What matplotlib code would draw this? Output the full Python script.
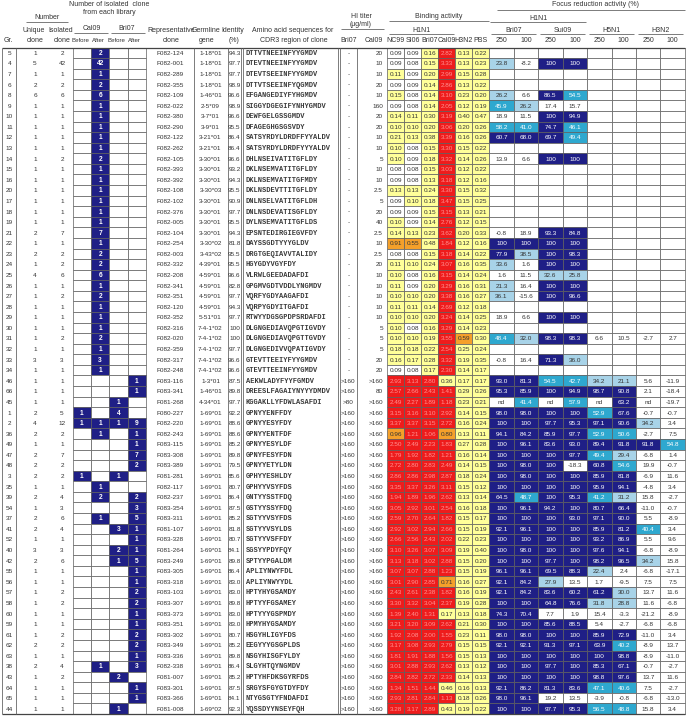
import matplotlib
matplotlib.use('Agg')
import matplotlib.pyplot as plt
from matplotlib.patches import Rectangle

# ---------------- data ----------------
gr = [5,4,7,6,8,9,10,11,12,13, 14,15,16,20,17,18,19,21,22,23, 24,25,26,27,28,29,30,31,32,33,
      34,46,66,45,1,2,36,49,47,48, 3,35,39,54,37,41,52,40,42,55, 56,57,58,60,59,61,62,63,38,43, 64,65,44]
unique_clone = [1,5,1,2,6,1,1,1,1,1, 1,1,1,1,1,1,1,2,1,2, 1,4,1,1,1,1,1,1,1,3,
                1,1,1,1,2,4,2,1,2,2, 2,1,2,1,2,2,1,3,2,1, 1,1,1,1,1,1,2,1,2,1, 1,1,1]
isolated_clone = [2,42,1,2,6,1,1,1,1,1, 2,1,1,1,1,1,1,7,1,2, 2,6,1,2,1,1,1,2,1,3,
                  1,1,1,1,5,12,2,1,7,2, 2,1,4,3,6,4,1,3,6,1, 1,2,2,1,1,2,2,1,4,2, 1,1,1]
cal09_before = [0,0,0,0,0,0,0,0,0,0, 0,0,0,0,0,0,0,0,0,0, 0,0,0,0,0,0,0,0,0,0,
                0,0,0,0,1,1,0,0,0,0, 1,0,0,0,0,0,0,0,0,0, 0,0,0,0,0,0,0,0,0,0, 0,0,0]
cal09_after = [2,42,1,2,6,1,1,1,1,1, 2,1,1,1,1,1,1,7,1,2, 2,6,1,2,1,1,1,2,1,3,
               1,0,0,0,0,1,1,0,0,0, 0,1,2,0,1,0,0,0,0,0, 0,0,0,0,0,0,0,0,1,0, 0,0,0]
bri07_before = [0,0,0,0,0,0,0,0,0,0, 0,0,0,0,0,0,0,0,0,0, 0,0,0,0,0,0,0,0,0,0,
                0,0,0,1,4,1,0,0,0,0, 1,0,0,0,0,3,0,2,1,0, 0,0,0,0,0,0,0,0,0,2, 0,0,1]
bri07_after = [0,0,0,0,0,0,0,0,0,0, 0,0,0,0,0,0,0,0,0,0, 0,0,0,0,0,0,0,0,0,0,
               0,1,1,0,0,9,1,1,7,2, 0,0,2,3,5,1,1,1,5,1, 1,2,2,1,1,2,2,1,3,0, 1,1,0]
rep_clone = ["F082-124","F082-001","F082-289","F082-355","F082-109","F082-022","F082-380","F082-290","F082-122","F082-262",
             "F082-105","F082-393","F082-392","F082-108","F082-102","F082-376","F082-005","F082-104","F082-254","F082-003",
             "F082-332","F082-208","F082-341","F082-351","F082-120","F082-352","F082-316","F082-020","F082-359","F082-317",
             "F082-248","F083-116","F083-341","F081-268","F080-227","F082-220","F082-243","F083-115","F083-308","F083-389",
             "F081-281","F082-117","F082-237","F083-354","F083-311","F081-107","F083-328","F081-264","F083-249","F083-305",
             "F083-318","F083-103","F083-307","F083-373","F083-351","F083-302","F083-349","F083-336","F082-338","F081-007",
             "F083-301","F083-366","F081-008"]
germline = ["1-18*01","1-18*01","1-18*01","1-18*01","1-46*01","2-5*09","3-7*01","3-9*01","3-21*01","3-21*01",
            "3-30*01","3-30*01","3-30*01","3-30*03","3-30*01","3-30*01","3-30*01","3-30*01","3-30*02","3-43*02",
            "4-39*01","4-59*01","4-59*01","4-59*01","4-59*01","5-51*01","7-4-1*02","7-4-1*02","7-4-1*02","7-4-1*02",
            "7-4-1*02","1-3*01","1-46*01","4-34*01","1-69*01","1-69*01","1-69*01","1-69*01","1-69*01","1-69*01",
            "1-69*01","1-69*01","1-69*01","1-69*01","1-69*01","1-69*01","1-69*01","1-69*01","1-69*01","1-69*01",
            "1-69*01","1-69*01","1-69*01","1-69*01","1-69*01","1-69*01","1-69*01","1-69*01","1-69*01","1-69*01",
            "1-69*01","1-69*01","1-69*02"]
identity = ["94.3","97.7","97.7","98.9","96.6","98.9","96.6","95.5","86.4","86.4",
            "96.6","93.2","94.3","95.5","90.9","97.7","95.5","94.3","81.8","95.5",
            "95.5","96.6","82.8","97.7","94.3","97.7","100","100","97.7","96.6",
            "96.6","87.5","89.8","97.7","92.2","88.6","88.6","85.2","89.8","79.5",
            "85.6","80.7","86.4","87.5","85.2","81.8","80.7","84.1","89.8","86.4",
            "83.0","83.0","89.8","83.0","83.0","80.7","85.2","89.8","86.4","85.2",
            "87.5","84.1","92.3"]
cdr3 = ["DTTVTNEEINFYYGMDV","DTEVTNEEINFYYGMDV","DTEVTSEEINFYYGMDV","DTTVTSEEINFYQGMDV","EFGANGEDIYFYHGMDV",
        "SIGGYDGEGIFYNHYGMDV","DEWFGELGSSGMDV","DFAGEGHGSGSVDY","SATSYRDYLDRDFFYYALDV","SATSYRDYLDRDFYYYALDV",
        "DHLNSEIVATITGFLDY","DKLNSEMVATITGFLDY","DKLNSEMVATITGFMDY","DKLNSDEVTTITGFLDY","DNLNSELVATITGFLDH",
        "DNLNSDEVATISGFLDY","DYLNSEMVATITGFLDS","EPSNTEDIRGIEGVFDY","DAYSSGDTYYYGLDV","DRGTGEQIAVVTALIDY",
        "HGYGDYVGYFDY","VLRWLGEEDADAFDI","GPGMVGDTVDDLYNGMDV","VQRFYGDYAAGAFDI","VQRPYGDYITGAFDI",
        "RTWYYDGSGPDPSRDAFDI","DLGNGEDIAVQPGTIGVDY","DLGNGEDIAVQPGTTGVDY","DLGNGEDIVVQPATIGVDY","GTEVTTEEIYFYYGMDV",
        "GTEVTTEEINFYYGMDV","AEKWLADYFYYFGMDV","DREESLFAGAIYNYYYDMDV","KGGAKLLYFDWLASAFDI","GPNYYENFFDY",
        "GPNYYESYFDY","GPNYYENTFDF","GPNYYESYLDF","GPNYFESYFDN","GPNYYETYLDN",
        "GPHYYESHLDY","GPHYYVSYFDS","GNTYYSSTFDQ","GSTYYSSYFDQ","SGTYYVSYFDS",
        "SGTYYVSYLDS","SGTYYVSFFDY","SGSYYPDYFQY","SPTYYPGALDM","APLIYNWYFDL",
        "APLIYNWYYDL","HPTYHYGSAMDY","HPTYYFGSAMEY","HPTYYYGSPMDY","HPMYHYGSAMDY",
        "HSGYHLIGYFDS","EEGYYYGSGPLDS","NSGYHISGFYLDY","SLGYHTQYNGMDV","HPTYHFDKSGYRFDS",
        "SRGYSFGYGTDYFDY","NTYGSGTYFNDAFDI","YQSSDYYNSEYFQH"]
hi_bri07 = ["-","-","-","-","-","-","-","-","-","-", "-","-","-","-","-","-","-","-","-","-",
            "-","-","-","-","-","-","-","-","-","-",
            "-",">160",">160",">80",">160",">160",">160",">160",">160",">160",
            ">160",">160",">160",">160",">160",">160",">160",">160",">160",">160",
            ">160",">160",">160",">160",">160",">160",">160",">160",">160",">160",
            ">160",">160",">160"]
hi_cal09 = ["20","10","10","20","10","160","20","20","10","10",
            "5","10","10","2.5","5","20","40","2.5","10","2.5",
            "20","10","10","10","10","10","5","5","5","20",
            "20",">160","80",">160",">160",">160",">160",">160",">160",">160",
            ">160",">160",">160",">160",">160",">160",">160",">160",">160",">160",
            ">160",">160",">160",">160",">160",">160",">160",">160",">160",">160",
            ">160",">160",">160"]
bind_nc99 = [0.09,0.09,0.11,0.09,0.15,0.09,0.14,0.10,0.21,0.10, 0.10,0.08,0.09,0.13,0.09,0.09,0.10,0.14,0.91,0.08,
             0.11,0.10,0.11,0.10,0.11,0.10,0.10,0.10,0.18,0.16, 0.09,2.93,2.57,2.49,3.15,3.37,0.96,2.50,1.79,2.72,
             2.86,3.35,1.94,3.05,2.59,2.92,2.66,3.10,3.13,3.07, 3.01,2.43,3.30,1.39,3.21,1.92,3.17,1.81,3.01,2.84,
             1.34,2.93,3.28]
bind_si06 = [0.09,0.08,0.09,0.09,0.08,0.08,0.11,0.10,0.13,0.08, 0.09,0.08,0.08,0.13,0.10,0.09,0.09,0.13,0.55,0.08,
             0.10,0.08,0.09,0.10,0.11,0.10,0.08,0.10,0.18,0.17, 0.08,3.13,2.66,2.27,3.16,3.37,1.21,2.49,1.92,2.80,
             2.86,3.37,1.89,2.92,2.70,3.02,2.56,3.26,3.18,3.07, 2.90,2.61,3.32,2.40,3.20,2.08,3.08,1.91,2.88,2.82,
             1.51,2.81,3.17]
bind_bri07 = [0.16,0.15,0.20,0.14,0.14,0.14,0.30,0.20,0.38,0.15, 0.18,0.15,0.13,0.24,0.18,0.15,0.14,0.23,0.48,0.15,
              0.24,0.16,0.20,0.20,0.14,0.20,0.16,0.19,0.22,0.28, 0.17,2.80,2.43,1.89,3.10,3.15,1.06,2.23,1.82,2.83,
              2.98,3.26,1.96,3.01,2.64,2.94,2.43,3.07,3.02,2.88, 2.85,2.38,3.04,1.31,3.09,2.00,2.93,1.88,2.93,2.72,
              1.44,2.84,2.89]
bind_cal09 = [2.82,3.33,2.99,2.86,3.10,2.05,3.19,3.06,3.39,3.30, 3.32,3.03,3.18,3.30,3.47,3.15,2.76,3.62,1.84,3.18,
              3.07,3.15,3.29,3.38,2.69,3.24,3.29,3.55,2.54,3.32, 2.30,0.36,1.41,1.18,2.92,2.72,0.80,1.83,1.21,2.49,
              2.87,3.11,2.62,2.54,1.82,2.66,2.02,3.09,2.88,1.23, 0.71,1.82,2.37,0.17,2.62,1.55,2.79,1.56,2.62,2.33,
              0.46,1.13,0.43]
bind_h3n2 = [0.13,0.13,0.15,0.13,0.23,0.12,0.40,0.20,0.16,0.15, 0.14,0.12,0.12,0.15,0.15,0.13,0.12,0.20,0.12,0.14,
             0.16,0.14,0.16,0.16,0.12,0.14,0.14,0.59,0.25,0.19, 0.14,0.17,0.29,0.23,0.14,0.16,0.13,0.27,0.16,0.14,
             0.18,0.15,0.13,0.16,0.15,0.15,0.22,0.19,0.15,0.15, 0.16,0.16,0.19,0.13,0.21,0.23,0.15,0.15,0.13,0.14,
             0.16,0.18,0.19]
bind_pbs = [0.22,0.23,0.28,0.22,0.20,0.19,0.47,0.26,0.26,0.22, 0.26,0.22,0.16,0.32,0.25,0.21,0.15,0.33,0.16,0.22,
            0.35,0.24,0.31,0.27,0.18,0.25,0.23,0.30,0.24,0.35, 0.17,0.17,0.26,0.21,0.15,0.24,0.11,0.28,0.14,0.15,
            0.24,0.12,0.14,0.18,0.17,0.19,0.23,0.40,0.20,0.19, 0.27,0.19,0.28,0.18,0.30,0.11,0.15,0.13,0.12,0.13,
            0.13,0.26,0.22]
fr_bri07_250 = ["","23.8","","","26.2","45.9","18.9","58.2","60.7","", "13.9","","","","","","","-0.8","100","77.9",
                "33.6","1.6","21.3","36.1","","18.9","","48.4","","-0.8", "","93.0","95.3","nd","98.0","100","94.1","100","100","100",
                "100","100","64.5","100","100","92.1","100","100","100","96.1", "92.1","92.1","100","74.3","100","98.0","92.1","100","100","100",
                "92.1","98.0","100"]
fr_bri07_100 = ["","-8.2","","","6.6","26.2","11.5","41.0","68.0","", "6.6","","","","","","","18.9","100","38.5",
                "1.6","11.5","16.4","-15.6","","6.6","","32.0","","16.4", "","81.3","85.9","41.4","98.0","100","84.2","96.1","100","98.0",
                "98.0","100","48.7","96.1","100","96.1","100","98.0","100","96.1", "84.2","84.2","100","70.4","100","98.0","92.1","100","100","100",
                "86.2","96.1","100"]
fr_sui09_250 = ["","100","","","86.5","17.4","100","74.7","69.7","", "100","","","","","","","93.3","100","100",
                "100","32.6","100","100","","100","","98.3","","71.3", "","54.5","100","nd","100","97.7","85.9","83.6","100","100",
                "100","100","100","94.2","100","100","100","100","97.7","69.5", "27.9","83.6","64.8","7.7","85.6","100","91.3","100","97.7","100",
                "81.3","19.2","97.7"]
fr_sui09_100 = ["","100","","","54.5","15.7","94.9","46.1","49.4","", "100","","","","","","","84.8","100","98.3",
                "100","25.8","100","96.6","","100","","98.3","","36.0", "","42.7","94.9","57.9","100","95.3","97.7","93.0","97.7","-18.3",
                "100","100","95.3","100","93.0","100","100","100","100","88.3", "13.5","60.2","76.6","1.9","88.5","100","97.1","100","100","100",
                "83.6","13.5","95.3"]
fr_h5n1_250 = ["","","","","","","","","","", "","","","","","","","","","",
               "","","","","","","","6.6","","", "","34.2","98.7","nd","52.9","97.1","52.9","89.4","49.4","60.8",
               "85.9","95.9","41.2","80.7","97.1","85.9","93.2","97.6","98.2","22.4", "1.7","61.2","31.8","15.4","5.4","85.9","63.9","100","85.3","98.8",
               "47.1","-3.9","56.5"]
fr_h5n1_100 = ["","","","","","","","","","", "","","","","","","","","","",
               "","","","","","","","10.5","","", "","21.1","90.8","63.2","67.6","90.6","50.6","91.8","29.4","54.6",
               "81.8","94.1","31.2","66.4","90.0","81.2","86.9","94.1","96.5","2.4", "-9.5","30.0","28.8","-3.3","-2.7","72.9","40.2","98.8","67.1","97.6",
               "40.6","-0.8","48.8"]
fr_h3n2_250 = ["","","","","","","","","","", "","","","","","","","","","",
               "","","","","","","","-2.7","","", "","5.6","2.1","nd","-0.7","34.2","-2.7","91.8","-6.8","19.9",
               "-6.9","-4.8","15.8","-11.0","5.5","40.4","5.5","-6.8","34.2","-6.8", "7.5","13.7","11.6","-21.2","-6.8","-11.0","-8.9","-8.9","-0.7","13.7",
               "7.5","-6.8","15.8"]
fr_h3n2_100 = ["","","","","","","","","","", "","","","","","","","","","",
               "","","","","","","","2.7","","", "","-11.9","-18.4","-19.7","-0.7","3.4","7.5","54.8","1.4","-0.7",
               "11.6","3.4","-2.7","-0.7","-8.9","3.4","9.6","-8.9","15.8","-17.1", "7.5","11.6","-6.8","-8.9","-6.8","3.4","13.7","-11.0","-2.7","11.6",
               "-2.7","-13.0","3.4"]

bind_labels = ["NC99", "SI06", "Bri07", "Cal09", "H3N2", "PBS"]
focus_groups = ["Bri07", "Sui09", "H5N1", "H3N2"]
focus_doses = ["250", "100"]

n = len(gr)
for lst in [unique_clone, isolated_clone, cal09_before, cal09_after, bri07_before, bri07_after, rep_clone,
            germline, identity, cdr3, hi_bri07, hi_cal09, bind_nc99, bind_si06, bind_bri07, bind_cal09,
            bind_h3n2, bind_pbs, fr_bri07_250, fr_bri07_100, fr_sui09_250, fr_sui09_100, fr_h5n1_250,
            fr_h5n1_100, fr_h3n2_250, fr_h3n2_100]:
    assert len(lst) == n, len(lst)

# ---------------- style / layout ----------------
W, H = 687, 716
fig = plt.figure(figsize=(W / 100, H / 100), dpi=100)
ax = fig.add_axes([0, 0, 1, 1])
ax.set_xlim(0, W)
ax.set_ylim(H, 0)
ax.axis('off')

SANS = 'Liberation Sans'
MONO = 'Liberation Mono'
FS = 4.6
HFS = 5.0
TXT = '#333333'
GRID = '#5e5e5e'
LINE = '#666666'
NAVY = '#1f1f86'
CYAN = '#2ea8cf'
LBLUE = '#a8d3e8'
YEL = '#ffff99'
ORA = '#f5a02a'
RED = '#ee1c1c'
RED_TXT = '#ff9393'

TOP, BOT = 47.5, 714.0
RH = (BOT - TOP) / n
X_BOX = [72.7, 91.0, 109.3, 127.6, 145.9]
X_BIND0, BW = 387.3, 17.0
X_FR0, FWD = 489.3, 24.45


def ry(i):
    return TOP + i * RH


def rc(i):
    return TOP + (i + 0.55) * RH


def txt(x, y, s, ha='center', size=FS, color=TXT, weight='normal', family=SANS):
    ax.text(x, y, s, ha=ha, va='center', fontsize=size, color=color, fontweight=weight, family=family)


def cell(x0, x1, i, fc):
    ax.add_patch(Rectangle((x0, ry(i)), x1 - x0, RH, facecolor=fc, edgecolor=GRID, linewidth=0.5))


def hline(x0, x1, y, lw=0.6, c=LINE):
    ax.plot([x0, x1], [y, y], color=c, lw=lw, solid_capstyle='butt')


def vline(x, y0=TOP, y1=BOT, lw=0.6, c=LINE):
    ax.plot([x, x], [y0, y1], color=c, lw=lw, solid_capstyle='butt')


def bind_color(v):
    if v < 0.10:
        return 'white'
    if v < 0.5:
        return YEL
    if v < 1.0:
        return ORA
    return RED


def fr_color(s):
    if s in ('', 'nd'):
        return 'white'
    v = float(s)
    if v >= 60:
        return NAVY
    if v >= 40:
        return CYAN
    if v >= 20:
        return LBLUE
    return 'white'


# ---------------- body ----------------
count_cols = [cal09_before, cal09_after, bri07_before, bri07_after]
bind_cols = [bind_nc99, bind_si06, bind_bri07, bind_cal09, bind_h3n2, bind_pbs]
fr_cols = [fr_bri07_250, fr_bri07_100, fr_sui09_250, fr_sui09_100,
           fr_h5n1_250, fr_h5n1_100, fr_h3n2_250, fr_h3n2_100]

for i in range(n):
    y = rc(i)
    txt(9.5, y, str(gr[i]))
    txt(35, y, str(unique_clone[i]))
    txt(62, y, str(isolated_clone[i]))
    for k, col in enumerate(count_cols):
        v = col[i]
        cell(X_BOX[k], X_BOX[k + 1], i, NAVY if v else 'white')
        if v:
            txt((X_BOX[k] + X_BOX[k + 1]) / 2, y, str(v), color='white', weight='bold', size=4.8)
    txt(170, y, rep_clone[i])
    txt(210.5, y, germline[i])
    txt(234.5, y, identity[i])
    txt(245.5, y, cdr3[i], ha='left', family=MONO, weight='bold', size=5.0, color='#3a3a3a')
    txt(348.5, y, hi_bri07[i])
    txt(383, y, hi_cal09[i], ha='right')
    for k, col in enumerate(bind_cols):
        v = col[i]
        fc = bind_color(v)
        x0 = X_BIND0 + k * BW
        cell(x0, x0 + BW, i, fc)
        txt(x0 + BW / 2, y, f"{v:.2f}", color=RED_TXT if fc == RED else TXT)
    for k, col in enumerate(fr_cols):
        s = col[i]
        fc = fr_color(s)
        x0 = X_FR0 + k * FWD
        cell(x0, x0 + FWD, i, fc)
        if s:
            txt(x0 + FWD / 2, y, s, color='white' if fc in (NAVY, CYAN) else TXT)

# table frame lines
hline(1.5, X_FR0 + 8 * FWD, TOP, lw=0.9, c='#444444')
hline(1.5, X_FR0 + 8 * FWD, BOT, lw=0.9, c='#444444')
for xv in [1.8, 16.0, 194.0, 227.5, 241.2, 243.4, 338.0, 340.4, 357.0]:
    vline(xv)

# ---------------- header ----------------
txt(109, 5, "Number of isolated  clone", size=HFS)
txt(109, 12, "from each library", size=HFS)
txt(47, 17.5, "Number", size=HFS)
hline(26, 68, 21.5)
txt(92, 28.5, "Cal09", size=HFS)
hline(74, 108, 32.5)
txt(127, 28.5, "Bri07", size=HFS)
hline(110.5, 145, 32.5)
txt(34, 30, "Unique", size=HFS)
txt(61, 30, "Isolated", size=HFS)
txt(8, 41, "Gr.", size=HFS)
txt(35, 41, "clone", size=HFS)
txt(62, 41, "clone", size=HFS)
for xc, s in zip([80.5, 98.5, 116.5, 134.5], ["Before", "After", "Before", "After"]):
    txt(xc, 41, s, size=4.4)
txt(171, 30, "Representative", size=HFS)
txt(171, 41, "clone", size=HFS)
txt(206.5, 30, "Germline", size=HFS)
txt(206.5, 41, "gene", size=HFS)
txt(233, 30, "Identity", size=HFS)
txt(234, 41, "(%)", size=HFS)
txt(293, 30, "Amino acid sequences for", size=HFS)
txt(294, 41, "CDR3 region of clone", size=HFS)

txt(361, 17, "HI titer", size=HFS)
txt(361, 24.5, "(\u03bcg/ml)", size=HFS)
hline(341, 384, 29)
txt(348.5, 41, "Bri07", size=HFS)
txt(374, 41, "Cal09", size=HFS)

txt(X_BIND0 + 3 * BW, 17, "Binding activity", size=HFS)
hline(X_BIND0 + 2, X_BIND0 + 6 * BW, 21)
txt(X_BIND0 + 2 * BW, 30, "H1N1", size=HFS)
hline(X_BIND0 + 2, X_BIND0 + 4 * BW - 1, 33.5)
for k, s in enumerate(bind_labels):
    txt(X_BIND0 + (k + 0.5) * BW, 41, s, size=HFS)

txt(596, 5, "Focus reduction activity (%)", size=HFS)
hline(497, X_FR0 + 8 * FWD, 10)
txt(X_FR0 + 2 * FWD, 18, "H1N1", size=HFS)
hline(X_FR0 + 1, X_FR0 + 4 * FWD - 1, 22)
for g, s in enumerate(focus_groups):
    x0 = X_FR0 + 2 * g * FWD
    txt(x0 + FWD, 30, s, size=HFS)
    hline(x0 + 2, x0 + 2 * FWD - 2, 34)
    for d, ds in enumerate(focus_doses):
        txt(x0 + (d + 0.5) * FWD, 41, ds, size=HFS)

fig.savefig("out.png", dpi=100)
